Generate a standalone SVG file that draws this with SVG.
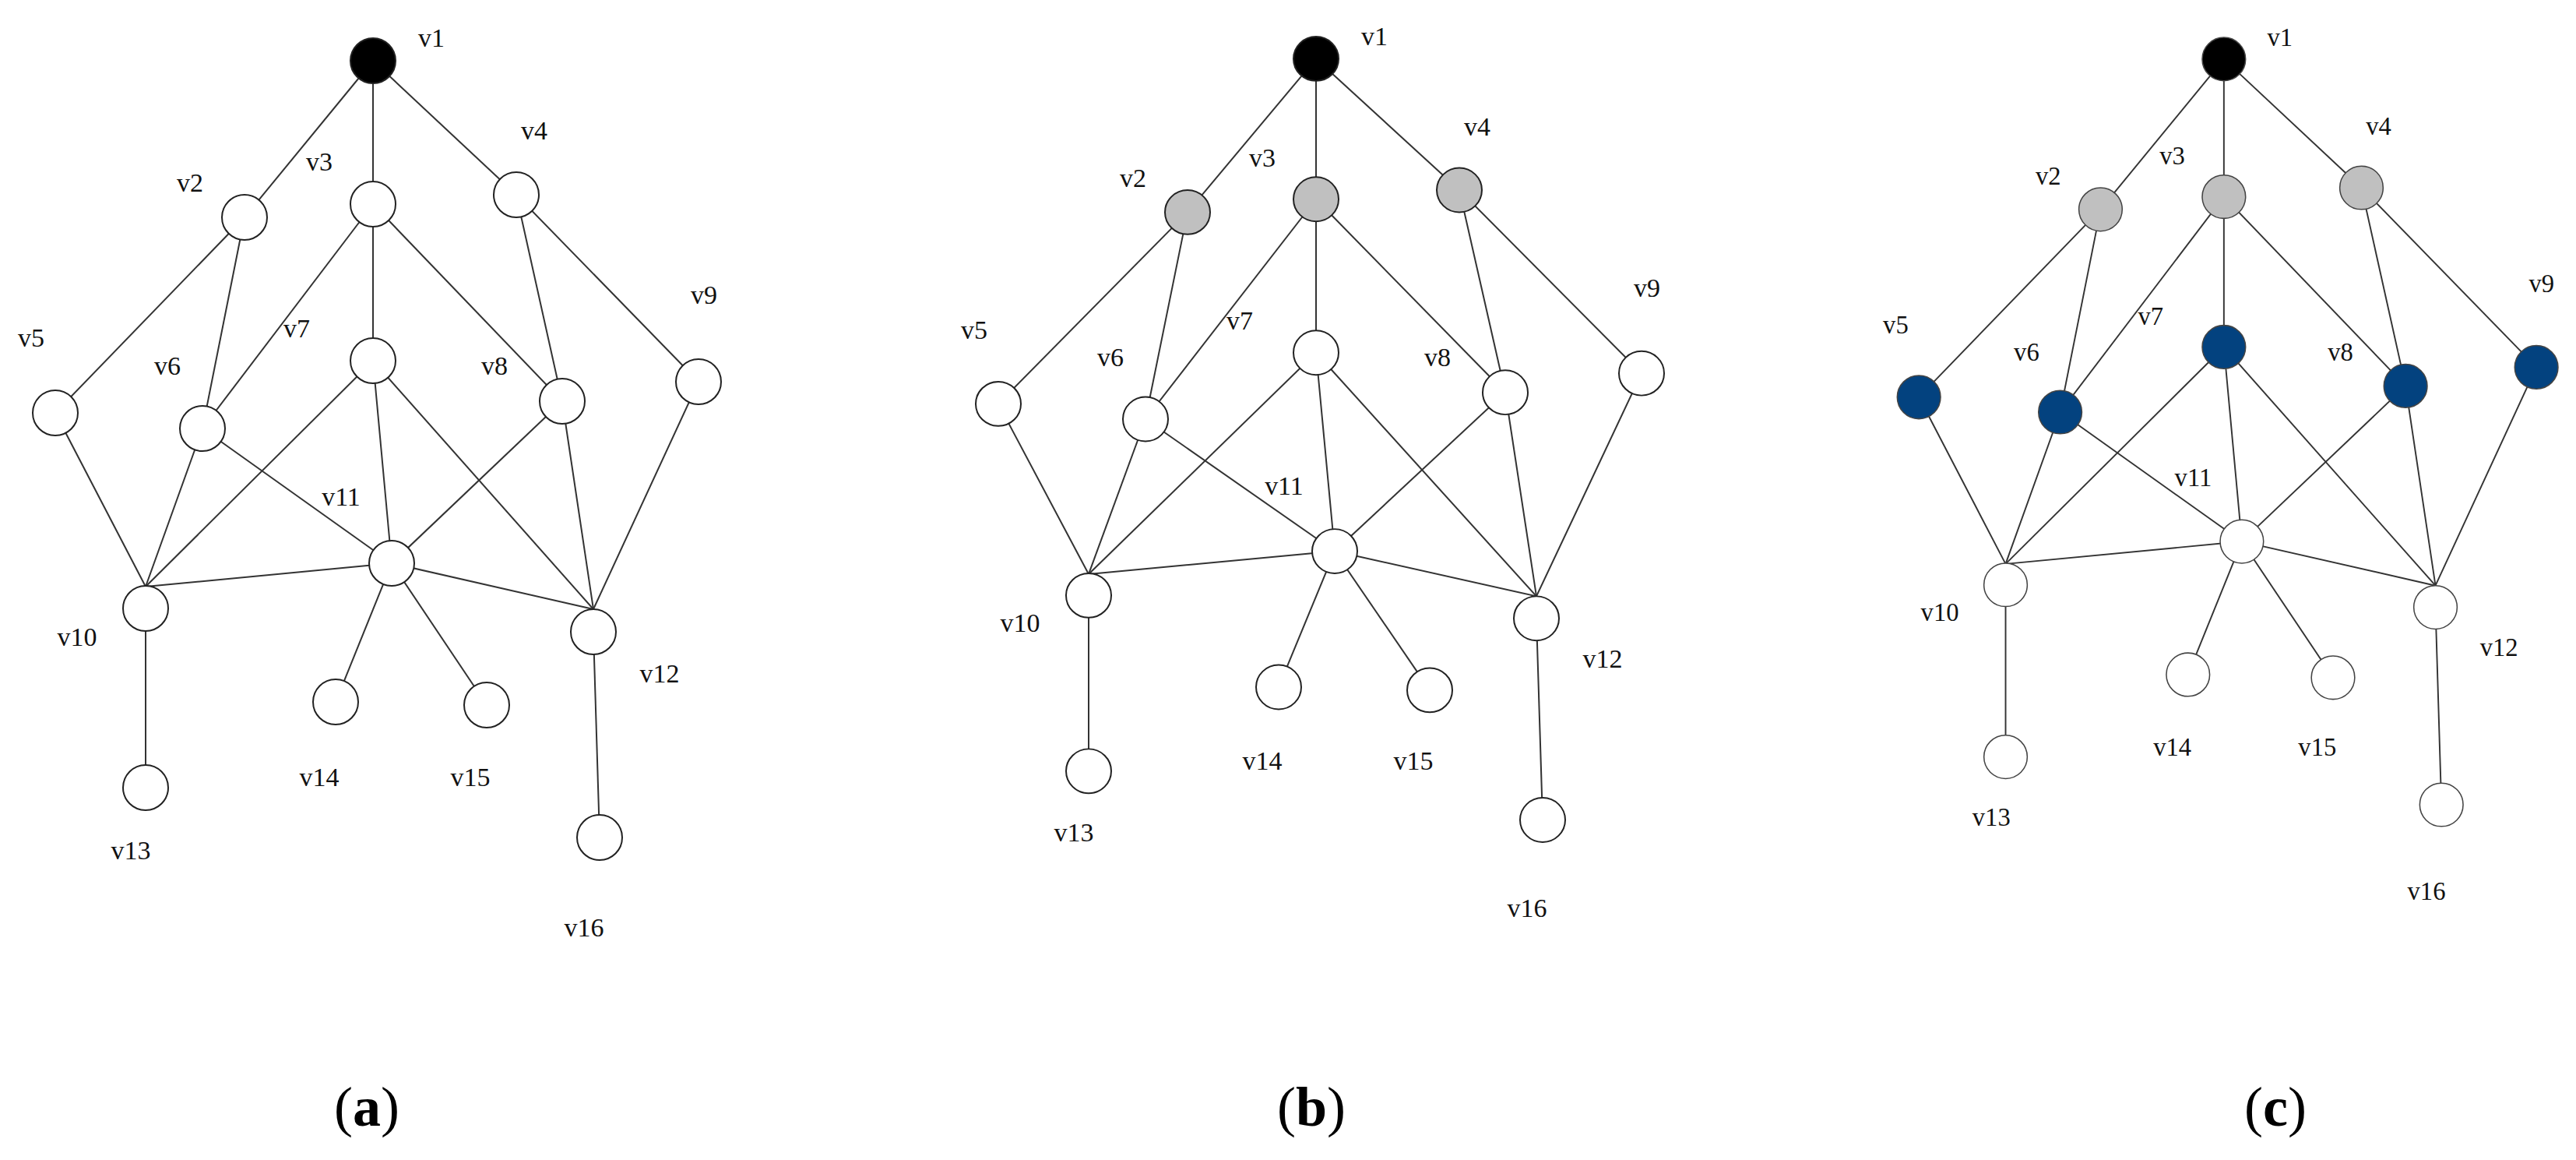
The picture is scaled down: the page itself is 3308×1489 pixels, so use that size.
<svg xmlns="http://www.w3.org/2000/svg" xmlns:xlink="http://www.w3.org/1999/xlink" width="3308" height="1489" viewBox="0 0 3308 1489">
<style>
.e line{stroke:#333;stroke-width:2}
.c .e line{stroke:#555;stroke-width:1.6}
.n{fill:#fff;stroke:#222;stroke-width:2}
.blk{fill:#000}
.gry{fill:#c0c0c0}
.blu{fill:#03427f;stroke:#03427f}
.c .n{stroke:#444;stroke-width:1.6}
text.l{font-family:"Liberation Serif",serif;font-size:34px;text-anchor:middle;fill:#111}
text.cap{font-family:"Liberation Serif",serif;font-size:72px;text-anchor:middle;fill:#000}
</style>
<defs>
<g id="edges" class="e">
<line x1="479" y1="78" x2="314" y2="279"/>
<line x1="479" y1="78" x2="479" y2="262"/>
<line x1="479" y1="78" x2="663" y2="250"/>
<line x1="314" y1="279" x2="71" y2="530"/>
<line x1="314" y1="279" x2="260" y2="550"/>
<line x1="479" y1="262" x2="260" y2="550"/>
<line x1="479" y1="262" x2="479" y2="463"/>
<line x1="479" y1="262" x2="722" y2="515"/>
<line x1="663" y1="250" x2="722" y2="515"/>
<line x1="663" y1="250" x2="897" y2="490"/>
<line x1="71" y1="530" x2="187" y2="753"/>
<line x1="260" y1="550" x2="187" y2="753"/>
<line x1="260" y1="550" x2="503" y2="723"/>
<line x1="479" y1="463" x2="187" y2="753"/>
<line x1="479" y1="463" x2="503" y2="723"/>
<line x1="479" y1="463" x2="762" y2="782"/>
<line x1="722" y1="515" x2="503" y2="723"/>
<line x1="722" y1="515" x2="762" y2="782"/>
<line x1="897" y1="490" x2="762" y2="782"/>
<line x1="187" y1="753" x2="503" y2="723"/>
<line x1="503" y1="723" x2="762" y2="782"/>
<line x1="503" y1="723" x2="431" y2="901"/>
<line x1="503" y1="723" x2="625" y2="905"/>
<line x1="187" y1="781" x2="187" y2="1011"/>
<line x1="762" y1="811" x2="770" y2="1075"/>
</g>
<g id="labels">
<text class="l" x="554" y="60">v1</text>
<text class="l" x="244" y="246">v2</text>
<text class="l" x="410" y="219">v3</text>
<text class="l" x="686" y="179">v4</text>
<text class="l" x="40" y="445">v5</text>
<text class="l" x="215" y="481">v6</text>
<text class="l" x="381" y="433">v7</text>
<text class="l" x="635" y="481">v8</text>
<text class="l" x="904" y="390">v9</text>
<text class="l" x="99" y="829">v10</text>
<text class="l" x="438" y="649">v11</text>
<text class="l" x="847" y="876">v12</text>
<text class="l" x="168" y="1103">v13</text>
<text class="l" x="410" y="1009">v14</text>
<text class="l" x="604" y="1009">v15</text>
<text class="l" x="750" y="1202">v16</text>
</g>
</defs>

<!-- panel a -->
<g id="panel-a">
<use xlink:href="#edges"/>
<g id="a-v1"><circle class="n blk" cx="479" cy="78" r="29"/></g>
<g id="a-v2"><circle class="n" cx="314" cy="279" r="29"/></g>
<g id="a-v3"><circle class="n" cx="479" cy="262" r="29"/></g>
<g id="a-v4"><circle class="n" cx="663" cy="250" r="29"/></g>
<g id="a-v5"><circle class="n" cx="71" cy="530" r="29"/></g>
<g id="a-v6"><circle class="n" cx="260" cy="550" r="29"/></g>
<g id="a-v7"><circle class="n" cx="479" cy="463" r="29"/></g>
<g id="a-v8"><circle class="n" cx="722" cy="515" r="29"/></g>
<g id="a-v9"><circle class="n" cx="897" cy="490" r="29"/></g>
<g id="a-v10"><circle class="n" cx="187" cy="781" r="29"/></g>
<g id="a-v11"><circle class="n" cx="503" cy="723" r="29"/></g>
<g id="a-v12"><circle class="n" cx="762" cy="811" r="29"/></g>
<g id="a-v13"><circle class="n" cx="187" cy="1011" r="29"/></g>
<g id="a-v14"><circle class="n" cx="431" cy="901" r="29"/></g>
<g id="a-v15"><circle class="n" cx="625" cy="905" r="29"/></g>
<g id="a-v16"><circle class="n" cx="770" cy="1075" r="29"/></g>
<use xlink:href="#labels"/>
</g>

<!-- panel b -->
<g id="panel-b" transform="translate(1211,-1) scale(1,0.98)">
<use xlink:href="#edges"/>
<g id="b-v1"><circle class="n blk" cx="479" cy="78" r="29"/></g>
<g id="b-v2"><circle class="n gry" cx="314" cy="279" r="29"/></g>
<g id="b-v3"><circle class="n gry" cx="479" cy="262" r="29"/></g>
<g id="b-v4"><circle class="n gry" cx="663" cy="250" r="29"/></g>
<g id="b-v5"><circle class="n" cx="71" cy="530" r="29"/></g>
<g id="b-v6"><circle class="n" cx="260" cy="550" r="29"/></g>
<g id="b-v7"><circle class="n" cx="479" cy="463" r="29"/></g>
<g id="b-v8"><circle class="n" cx="722" cy="515" r="29"/></g>
<g id="b-v9"><circle class="n" cx="897" cy="490" r="29"/></g>
<g id="b-v10"><circle class="n" cx="187" cy="781" r="29"/></g>
<g id="b-v11"><circle class="n" cx="503" cy="723" r="29"/></g>
<g id="b-v12"><circle class="n" cx="762" cy="811" r="29"/></g>
<g id="b-v13"><circle class="n" cx="187" cy="1011" r="29"/></g>
<g id="b-v14"><circle class="n" cx="431" cy="901" r="29"/></g>
<g id="b-v15"><circle class="n" cx="625" cy="905" r="29"/></g>
<g id="b-v16"><circle class="n" cx="770" cy="1075" r="29"/></g>
<use xlink:href="#labels"/>
</g>

<!-- panel c -->
<g id="panel-c" class="c" transform="translate(2396,1) scale(0.96)">
<use xlink:href="#edges"/>
<g id="c-v1"><circle class="n blk" cx="479" cy="78" r="29"/></g>
<g id="c-v2"><circle class="n gry" cx="314" cy="279" r="29"/></g>
<g id="c-v3"><circle class="n gry" cx="479" cy="262" r="29"/></g>
<g id="c-v4"><circle class="n gry" cx="663" cy="250" r="29"/></g>
<g id="c-v5"><circle class="n blu" cx="71" cy="530" r="29"/></g>
<g id="c-v6"><circle class="n blu" cx="260" cy="550" r="29"/></g>
<g id="c-v7"><circle class="n blu" cx="479" cy="463" r="29"/></g>
<g id="c-v8"><circle class="n blu" cx="722" cy="515" r="29"/></g>
<g id="c-v9"><circle class="n blu" cx="897" cy="490" r="29"/></g>
<g id="c-v10"><circle class="n" cx="187" cy="781" r="29"/></g>
<g id="c-v11"><circle class="n" cx="503" cy="723" r="29"/></g>
<g id="c-v12"><circle class="n" cx="762" cy="811" r="29"/></g>
<g id="c-v13"><circle class="n" cx="187" cy="1011" r="29"/></g>
<g id="c-v14"><circle class="n" cx="431" cy="901" r="29"/></g>
<g id="c-v15"><circle class="n" cx="625" cy="905" r="29"/></g>
<g id="c-v16"><circle class="n" cx="770" cy="1075" r="29"/></g>
<use xlink:href="#labels"/>
</g>

<text class="cap" x="471" y="1445">(<tspan font-weight="bold">a</tspan>)</text>
<text class="cap" x="1684" y="1445">(<tspan font-weight="bold">b</tspan>)</text>
<text class="cap" x="2922" y="1445">(<tspan font-weight="bold">c</tspan>)</text>
</svg>
